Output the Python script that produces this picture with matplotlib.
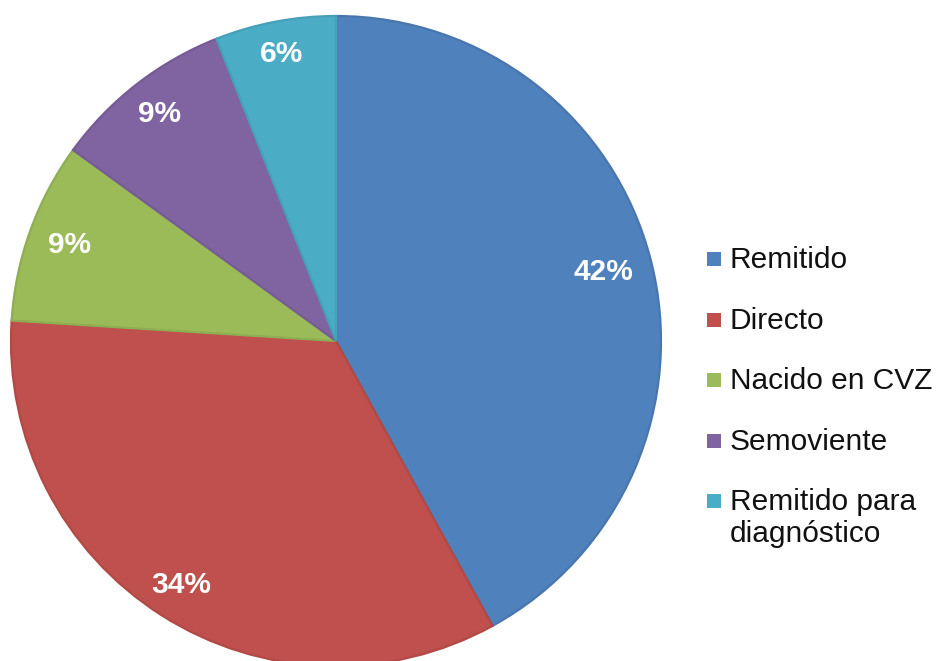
import matplotlib
matplotlib.use('Agg')
import matplotlib.pyplot as plt
import matplotlib.patches as mpatches
import numpy as np

plt.rcParams['font.family'] = ['Liberation Sans', 'DejaVu Sans']

# Origen de los casos
labels = ['Remitido', 'Directo', 'Nacido en CVZ', 'Semoviente', 'Remitido para\ndiagnóstico']
values = [42, 34, 9, 9, 6]
colors = ['#4F81BD', '#C0504D', '#9BBB59', '#8064A2', '#4BACC6']
edges = ['#4A76AE', '#B04A47', '#8FAD52', '#755C95', '#45A0B8']
# radial distance of each % label (Excel "best fit" placement)
label_r = [0.85, 0.89, 0.87, 0.885, 0.90]

W, H = 937, 661
fig = plt.figure(figsize=(W / 100, H / 100), dpi=100)

# pie centre (336, 341) px, radius 325 px
cx, cy, r = 336, 341, 325
ax = fig.add_axes([(cx - r) / W, (H - cy - r) / H, 2 * r / W, 2 * r / H])
wedges, texts, autotexts = ax.pie(
    values, colors=colors, startangle=90, counterclock=False,
    autopct='%1.0f%%', pctdistance=0.86, radius=1.0,
    wedgeprops=dict(linewidth=1.6),
    textprops=dict(color='white', fontsize=21.5, fontweight='bold'))
for w, e, t, d in zip(wedges, edges, autotexts, label_r):
    w.set_edgecolor(e)
    ang = np.deg2rad((w.theta1 + w.theta2) / 2)
    t.set_position((d * np.cos(ang), d * np.sin(ang)))
ax.set_xlim(-1.0, 1.0)
ax.set_ylim(-1.0, 1.0)
ax.set_aspect('equal')
ax.axis('off')

# legend drawn by hand so the square sits on the first text line
base_y = [268, 329, 389, 450, 510]
for lab, col, by in zip(labels, colors, base_y):
    sq = mpatches.Rectangle((707 / W, 1 - (by - 2) / H), 14 / W, 14 / H,
                            transform=fig.transFigure, facecolor=col, edgecolor='none')
    fig.patches.append(sq)
    lines = lab.split('\n')
    for k, ln in enumerate(lines):
        fig.text(730 / W, 1 - (by + 32 * k) / H, ln, fontsize=21.5,
                 color='#111111', ha='left', va='baseline')

fig.savefig('out.png', dpi=100)
